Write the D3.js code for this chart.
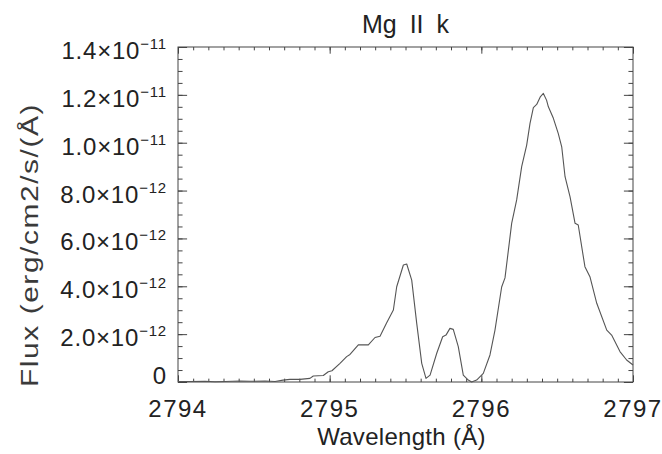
<!DOCTYPE html>
<html>
<head>
<meta charset="utf-8">
<script src="https://cdn.jsdelivr.net/npm/d3@7"></script>
<style>
  html, body { margin: 0; padding: 0; background: #fff; }
  svg { display: block; font-family: "Liberation Sans", Arial, sans-serif; }
</style>
</head>
<body>
<script>
// Mg II k line profile: wavelength in Angstrom, flux in units of 1e-12 erg/cm2/s/A
const wavelength = [
  2794.000, 2794.079, 2794.178, 2794.244, 2794.310, 2794.409, 2794.475, 2794.574,
  2794.640, 2794.692, 2794.738, 2794.804, 2794.870, 2794.892, 2794.958, 2794.991,
  2795.015, 2795.068, 2795.112, 2795.134, 2795.189, 2795.255, 2795.299, 2795.332,
  2795.376, 2795.420, 2795.442, 2795.486, 2795.508, 2795.541, 2795.574, 2795.607,
  2795.635, 2795.662, 2795.706, 2795.745, 2795.767, 2795.793, 2795.815, 2795.848,
  2795.881, 2795.914, 2795.936, 2795.969, 2796.013, 2796.057, 2796.090, 2796.134,
  2796.156, 2796.200, 2796.233, 2796.266, 2796.299, 2796.321, 2796.343, 2796.365,
  2796.390, 2796.409, 2796.430, 2796.442, 2796.475, 2796.507, 2796.530, 2796.552,
  2796.585, 2796.618, 2796.639, 2796.683, 2796.716, 2796.761, 2796.827, 2796.859,
  2796.914, 2796.958, 2797.000
];
const flux = [
  0.02, 0.02, 0.03, 0.01, 0.02, 0.04, 0.03, 0.04,
  0.02, 0.08, 0.11, 0.11, 0.15, 0.25, 0.27, 0.43,
  0.47, 0.78, 1.06, 1.15, 1.55, 1.55, 1.86, 1.91,
  2.48, 3.01, 3.98, 4.89, 4.93, 4.26, 2.45, 0.78,
  0.15, 0.29, 1.20, 1.89, 1.96, 2.24, 2.20, 1.48,
  0.29, 0.08, 0.00, 0.08, 0.36, 1.13, 2.17, 3.97,
  4.35, 6.63, 7.61, 9.00, 9.90, 10.81, 11.47, 11.60,
  11.93, 12.06, 11.78, 11.50, 11.02, 10.39, 9.83, 8.58,
  7.74, 6.63, 6.56, 4.82, 4.40, 3.29, 2.17, 1.96,
  1.27, 0.92, 0.71
];

// Axis ticks and their labels
const xTicks = [2794, 2795, 2796, 2797];
const xTickLabels = ["2794", "2795", "2796", "2797"];
const yTicks = [0, 2, 4, 6, 8, 10, 12, 14];
const yTickMantissa = ["0", "2.0", "4.0", "6.0", "8.0", "1.0", "1.2", "1.4"];
const yTickExponent = ["", "\u221212", "\u221212", "\u221212", "\u221212", "\u221211", "\u221211", "\u221211"];

const W = 662, H = 454;
const plot = { left: 178, right: 633, top: 47, bottom: 382 };
const axisColor = "#444";
const lineColor = "#555";
const textColor = "#222";

const svg = d3.select("body").append("svg")
  .attr("width", W).attr("height", H);

const x = d3.scaleLinear().domain([2794, 2797]).range([plot.left, plot.right]);
const y = d3.scaleLinear().domain([0, 14]).range([plot.bottom, plot.top]);

const xMinor = d3.range(0, 31).map(i => 2794 + i * 0.1);
const yMinor = d3.range(0, 29).map(i => i * 0.5);

const xMajLen = 0.02 * (plot.bottom - plot.top);
const yMajLen = 0.02 * (plot.right - plot.left);

function styleAxis(g) {
  g.select(".domain").remove();
  g.selectAll(".tick line").attr("stroke", axisColor).attr("stroke-width", 1);
  g.selectAll(".tick text").remove();
}

// inward-pointing ticks on all four sides
[
  [d3.axisBottom(x), plot.bottom, xTicks, xMajLen, xMinor, "x"],
  [d3.axisTop(x), plot.top, xTicks, xMajLen, xMinor, "x"],
  [d3.axisLeft(y), plot.left, yTicks, yMajLen, yMinor, "y"],
  [d3.axisRight(y), plot.right, yTicks, yMajLen, yMinor, "y"]
].forEach(([axis, pos, major, len, minor, dim]) => {
  const tr = dim === "x" ? `translate(0,${pos})` : `translate(${pos},0)`;
  svg.append("g").attr("transform", tr)
    .call(axis.tickValues(minor).tickSize(-len / 2))
    .call(styleAxis);
  svg.append("g").attr("transform", tr)
    .call(axis.tickValues(major).tickSize(-len))
    .call(styleAxis);
});

// plot frame
svg.append("rect")
  .attr("x", plot.left).attr("y", plot.top)
  .attr("width", plot.right - plot.left).attr("height", plot.bottom - plot.top)
  .attr("fill", "none").attr("stroke", axisColor).attr("stroke-width", 1);

// spectrum
const line = d3.line()
  .x((d, i) => x(wavelength[i]))
  .y(d => y(d));
svg.append("path")
  .datum(flux)
  .attr("d", line)
  .attr("fill", "none")
  .attr("stroke", lineColor)
  .attr("stroke-width", 1.1)
  .attr("stroke-linejoin", "round");

// x tick labels
svg.selectAll("text.xlab").data(xTicks).join("text")
  .attr("class", "xlab")
  .attr("x", d => x(d))
  .attr("y", plot.bottom + 35)
  .attr("text-anchor", "middle")
  .attr("font-size", 24)
  .attr("letter-spacing", 1.5)
  .attr("fill", textColor)
  .text((d, i) => xTickLabels[i]);

// y tick labels with power-of-ten notation
const ylab = svg.selectAll("text.ylab").data(yTicks).join("text")
  .attr("class", "ylab")
  .attr("x", plot.left - 11)
  .attr("y", (d, i) => y(d) + (yTickExponent[i] ? 12 : 2))
  .attr("text-anchor", "end")
  .attr("font-size", 24)
  .attr("letter-spacing", 0.8)
  .attr("fill", textColor);
ylab.each(function(d, i) {
  const t = d3.select(this);
  if (!yTickExponent[i]) { t.text(yTickMantissa[i]); return; }
  t.append("tspan").text(yTickMantissa[i] + "\u00d710");
  t.append("tspan").attr("font-size", 15).attr("dy", -10).text(yTickExponent[i]);
});

// title and axis titles
svg.append("text")
  .attr("x", (plot.left + plot.right) / 2).attr("y", 33)
  .attr("text-anchor", "middle").attr("font-size", 25)
  .attr("word-spacing", 6).attr("fill", textColor)
  .text("Mg II k");

svg.append("text")
  .attr("x", (plot.left + plot.right) / 2 - 4).attr("y", 445)
  .attr("text-anchor", "middle").attr("font-size", 24).attr("fill", textColor)
  .attr("letter-spacing", 0.3)
  .text("Wavelength (\u00c5)");

svg.append("text")
  .attr("transform", "translate(38,245) rotate(-90)")
  .attr("text-anchor", "middle").attr("font-size", 23).attr("fill", "#3a3a3a")
  .attr("letter-spacing", 1.2)
  .attr("textLength", 284).attr("lengthAdjust", "spacingAndGlyphs")
  .text("Flux (erg/cm2/s/(\u00c5)");
</script>
</body>
</html>
